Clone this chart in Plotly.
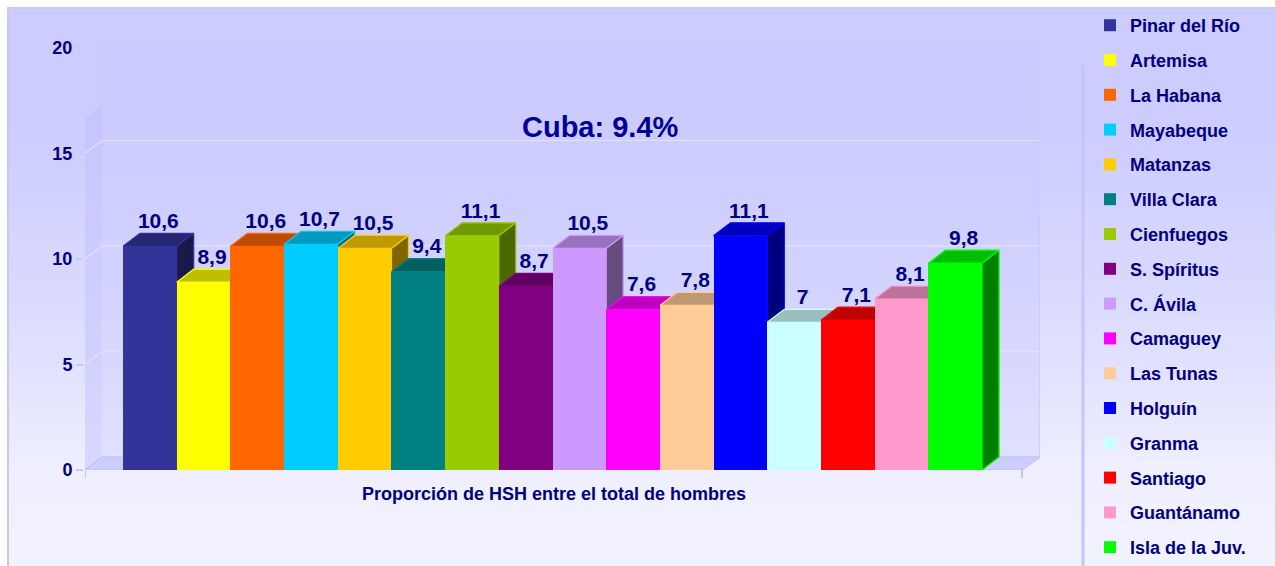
"""Proporción de HSH por provincia - gráfico de barras con efecto 3D"""
import plotly.graph_objects as go

# datos
regions = ["Pinar del Río", "Artemisa", "La Habana", "Mayabeque", "Matanzas",
           "Villa Clara", "Cienfuegos", "S. Spíritus", "C. Ávila", "Camaguey",
           "Las Tunas", "Holguín", "Granma", "Santiago", "Guantánamo", "Isla de la Juv."]
values = [10.6, 8.9, 10.6, 10.7, 10.5, 9.4, 11.1, 8.7, 10.5, 7.6, 7.8, 11.1, 7.0, 7.1, 8.1, 9.8]
colors = ["#333399", "#FFFF00", "#FF6600", "#00CCFF", "#FFCC00", "#008080", "#99CC00", "#800080",
          "#CC99FF", "#FF00FF", "#FFCC99", "#0000FF", "#CCFFFF", "#FF0000", "#FF99CC", "#00FF00"]
cuba_total = 9.4
y_ticks = [0, 5, 10, 15, 20]
x_title = "Proporción de HSH entre el total de hombres"

NAVY = "#000080"
FONT = "Liberation Sans, Arial, sans-serif"

# geometry (pixels)
W, H = 1275, 566
L, R_EDGE, TOP, BOT = 85, 1040, 33, 470
PX_X = 53.69            # pixels per category
PX_Y = 21.1             # pixels per unit
DX = 17 / PX_X          # depth offset in data units
DY = 13 / PX_Y
X_LEFT = -0.5 - (123 - L) / PX_X
X_RIGHT = X_LEFT + (R_EDGE - L) / PX_X
X_FRONT = X_LEFT + (1022 - L) / PX_X
Y_TOP = (BOT - TOP) / PX_Y


def px2x(px):
    return (px - L) / (R_EDGE - L)


def py2y(py):
    return (BOT - py) / (BOT - TOP)


def shade(hexc, f):
    h = hexc.lstrip('#')
    r, g, b = (int(h[k:k + 2], 16) for k in (0, 2, 4))
    return f"rgb({int(r * f)},{int(g * f)},{int(b * f)})"


def label(v):
    s = f"{v:g}"
    return s.replace('.', ',')


fig = go.Figure()

for i, (name, v, c) in enumerate(zip(regions, values, colors)):
    # top face
    fig.add_trace(go.Scatter(
        x=[i - 0.5, i - 0.5 + DX, i + 0.5 + DX, i + 0.5, i - 0.5],
        y=[v, v + DY, v + DY, v, v],
        fill='toself', fillcolor=shade(c, 0.75), mode='lines',
        line=dict(color=c, width=1.2), legendgroup=name, showlegend=False,
        hoverinfo='skip', zorder=2 * i
    ))
    # side face
    fig.add_trace(go.Scatter(
        x=[i + 0.5, i + 0.5, i + 0.5 + DX, i + 0.5 + DX, i + 0.5],
        y=[0, v, v + DY, DY, 0],
        fill='toself', fillcolor=shade(c, 0.5), mode='lines',
        line=dict(color=c, width=1.2), legendgroup=name, showlegend=False,
        hoverinfo='skip', zorder=2 * i
    ))
    # front face
    fig.add_trace(go.Bar(
        x=[i], y=[v], width=1, name=name, legendgroup=name,
        marker=dict(color=c, line=dict(width=0)),
        hovertemplate=f'<b>{name}</b><br>%{{y}}<extra></extra>',
        zorder=2 * i + 1
    ))

# value labels
fig.add_trace(go.Scatter(
    x=[i + DX / 2 for i in range(len(values))],
    y=[v + DY for v in values],
    text=[label(v) for v in values],
    mode='text', textposition='top center',
    textfont=dict(family=FONT, size=21, color=NAVY, weight='bold'),
    showlegend=False, hoverinfo='skip', cliponaxis=False, zorder=100
))

shapes = []

# background gradient
stops = [(7, 204), (120, 204), (300, 218), (470, 238), (566, 242)]


def grad(py):
    for (a, ca), (b, cb) in zip(stops[:-1], stops[1:]):
        if a <= py <= b:
            return ca + (cb - ca) * (py - a) / (b - a)
    return stops[-1][1]


n = 70
step = (H - 7) / n
for k in range(n):
    p0 = 7 + k * step
    p1 = p0 + step + 0.6
    c = int(round(grad(p0 + step / 2)))
    shapes.append(dict(type='rect', xref='paper', yref='paper', layer='below',
                       x0=px2x(7), x1=px2x(W + 5), y0=py2y(p1), y1=py2y(p0),
                       line=dict(width=0), fillcolor=f"rgb({c},{c},255)"))

# outer frame and legend separator
shapes.append(dict(type='rect', xref='paper', yref='paper', layer='below',
                   x0=px2x(8), x1=px2x(W + 5), y0=py2y(H + 5), y1=py2y(8),
                   line=dict(color='#c8c8f4', width=2)))
shapes.append(dict(type='line', xref='paper', yref='paper', layer='below',
                   x0=px2x(1083), x1=px2x(1083), y0=py2y(65), y1=py2y(H + 5),
                   line=dict(color='#c4c4ff', width=3)))

# back wall, side wall and floor
shapes.append(dict(type='path', xref='x', yref='y', layer='below',
                   path=f"M {X_LEFT + DX},{DY} L {X_RIGHT},{DY} L {X_RIGHT},{20 + DY} "
                        f"L {X_LEFT + DX},{20 + DY} Z",
                   fillcolor='rgba(200,200,255,0.35)', line=dict(width=0)))
shapes.append(dict(type='path', xref='x', yref='y', layer='below',
                   path=f"M {X_RIGHT},{DY} L {X_RIGHT},{19.2}",
                   line=dict(color='#c8c8ff', width=1.5)))
shapes.append(dict(type='path', xref='x', yref='y', layer='below',
                   path=f"M {X_LEFT},0 L {X_LEFT + DX},{DY} L {X_LEFT + DX},{17.3} "
                        f"L {X_LEFT},{17.3 - DY} Z",
                   fillcolor='rgba(190,190,255,0.45)', line=dict(width=0)))
shapes.append(dict(type='path', xref='x', yref='y', layer='below',
                   path=f"M {X_LEFT},0 L {X_FRONT},0 L {X_RIGHT},{DY} L {X_LEFT + DX},{DY} Z",
                   fillcolor='#cdcdff', line=dict(color='#c4c4ff', width=1.5)))

# gridlines on back wall
for t in y_ticks[1:-1]:
    shapes.append(dict(type='path', xref='x', yref='y', layer='below',
                       path=f"M {X_LEFT},{t} L {X_LEFT + DX},{t + DY} L {X_RIGHT},{t + DY}",
                       line=dict(color='rgba(226,226,255,0.85)', width=1.5)))

# small x ticks at the floor edge
for xt in (X_LEFT, X_FRONT):
    shapes.append(dict(type='line', xref='x', yref='paper', layer='below',
                       x0=xt, x1=xt, y0=py2y(BOT), y1=py2y(BOT + 8),
                       line=dict(color='#c4c4ff', width=2)))

fig.update_layout(
    width=W, height=H,
    margin=dict(l=L, r=W - R_EDGE, t=TOP, b=H - BOT),
    paper_bgcolor='white',
    plot_bgcolor='rgba(0,0,0,0)',
    barmode='overlay',
    bargap=0,
    showlegend=True,
    font=dict(family=FONT, color=NAVY),
    shapes=shapes,
    legend=dict(
        x=px2x(1090), xanchor='left',
        y=py2y(12), yanchor='top',
        bgcolor='rgba(0,0,0,0)',
        font=dict(family=FONT, size=18, color=NAVY, weight='bold'),
        tracegroupgap=8.4,
        maxheight=H,
        itemclick=False
    ),
    xaxis=dict(range=[X_LEFT, X_RIGHT], showticklabels=False, showgrid=False,
               zeroline=False, showline=False, ticks=''),
    yaxis=dict(range=[0, Y_TOP], tickvals=y_ticks, showgrid=False, zeroline=False,
               showline=True, linecolor='#c8c8ff', linewidth=2,
               ticks='outside', ticklen=7, tickcolor='#c8c8ff', tickwidth=2,
               tickfont=dict(family=FONT, size=18, color=NAVY, weight='bold')),
    annotations=[
        dict(text=f"<b>Cuba: {cuba_total}%</b>", xref='x', yref='y',
             x=X_LEFT + (600 - L) / PX_X, y=(BOT - 127) / PX_Y, showarrow=False,
             font=dict(family=FONT, size=29, color='#000099')),
        dict(text=f"<b>{x_title}</b>", xref='x', yref='paper',
             x=(X_LEFT + X_FRONT) / 2, y=py2y(494), yanchor='middle', showarrow=False,
             font=dict(family=FONT, size=18, color=NAVY)),
    ]
)

fig.write_html("out.html", config={'displayModeBar': False},
               post_script="document.body.style.margin='0';")
